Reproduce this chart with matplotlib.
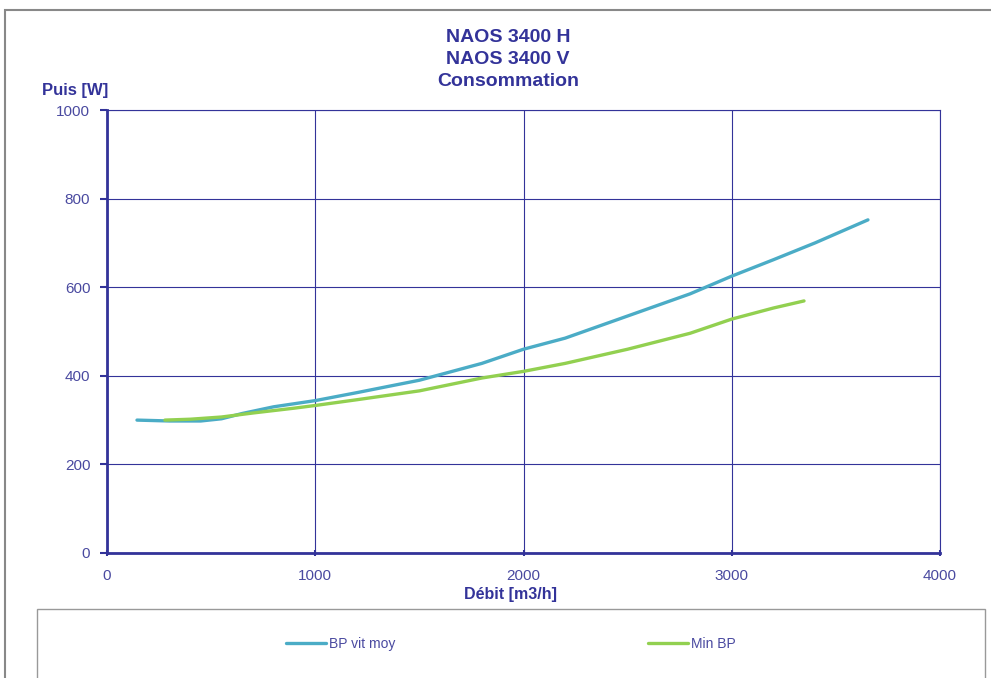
import matplotlib
matplotlib.use("Agg")
import matplotlib.pyplot as plt
from matplotlib.patches import Rectangle

plt.rcParams["font.family"] = ["Liberation Sans", "DejaVu Sans"]

NAVY = "#333399"

# BP vit moy (blue)
bp_x = [144, 300, 450, 550, 650, 800, 1000, 1200, 1500, 1800, 2000, 2200, 2500, 2800, 3000, 3200, 3400, 3654]
bp_y = [300, 298, 298, 303, 315, 330, 344, 362, 390, 428, 460, 485, 535, 585, 625, 662, 700, 752]

# Min BP (green)
min_x = [278, 400, 550, 700, 900, 1000, 1200, 1500, 1800, 2000, 2200, 2500, 2800, 3000, 3200, 3347]
min_y = [300, 302, 307, 316, 327, 333, 346, 366, 395, 410, 428, 460, 496, 528, 553, 569]

fig = plt.figure(figsize=(9.91, 6.78), dpi=100)
ax = fig.add_axes([107 / 991, 1 - 553 / 678, 833 / 991, 443 / 678])

ax.plot(bp_x, bp_y, color="#4BACC6", lw=2.4, solid_capstyle="round", label="BP vit moy")
ax.plot(min_x, min_y, color="#92D050", lw=2.4, solid_capstyle="round", label="Min BP")

ax.set_xlim(0, 4000)
ax.set_ylim(0, 1000)
ax.set_xticks([0, 1000, 2000, 3000, 4000])
ax.set_yticks([0, 200, 400, 600, 800, 1000])
ax.grid(True, color=NAVY, lw=0.8)
for s in ["top", "right"]:
    ax.spines[s].set_color(NAVY)
    ax.spines[s].set_linewidth(0.8)
for s in ["left", "bottom"]:
    ax.spines[s].set_color(NAVY)
    ax.spines[s].set_linewidth(2)
ax.tick_params(colors=NAVY, labelcolor="#4a4aa0", labelsize=11, width=1.5, length=5)
ax.tick_params(axis="x", direction="inout", pad=9)
ax.tick_params(axis="y", direction="out", pad=7)

fig.text(508 / 991, 1 - 38 / 678, "NAOS 3400 H", ha="center", va="center",
         fontsize=14, fontweight="bold", color=NAVY)
fig.text(508 / 991, 1 - 60 / 678, "NAOS 3400 V", ha="center", va="center",
         fontsize=14, fontweight="bold", color=NAVY)
fig.text(508 / 991, 1 - 82 / 678, "Consommation", ha="center", va="center",
         fontsize=14, fontweight="bold", color=NAVY)
fig.text(75 / 991, 1 - 90 / 678, "Puis [W]", ha="center", va="center",
         fontsize=12, fontweight="bold", color=NAVY)
fig.text(510 / 991, 1 - 594 / 678, "Débit [m3/h]", ha="center", va="center",
         fontsize=11.5, fontweight="bold", color=NAVY)

# outer chart border and legend box
fig.patches.append(Rectangle((5 / 991, -0.1), 1.1, 1 - 10 / 678 + 0.1,
                             transform=fig.transFigure, fill=False,
                             edgecolor="#888888", lw=1.5))
fig.patches.append(Rectangle((37 / 991, -0.1), 948 / 991, 1 - 609 / 678 + 0.1,
                             transform=fig.transFigure, fill=False,
                             edgecolor="#999999", lw=1))

fig.legend(loc="center", bbox_to_anchor=(511 / 991, 1 - 644 / 678), ncol=2,
           frameon=False, fontsize=10, handlelength=2.9, handletextpad=0.2,
           columnspacing=18.2, labelcolor="#4a4aa0")

fig.savefig("out.png", dpi=100)
